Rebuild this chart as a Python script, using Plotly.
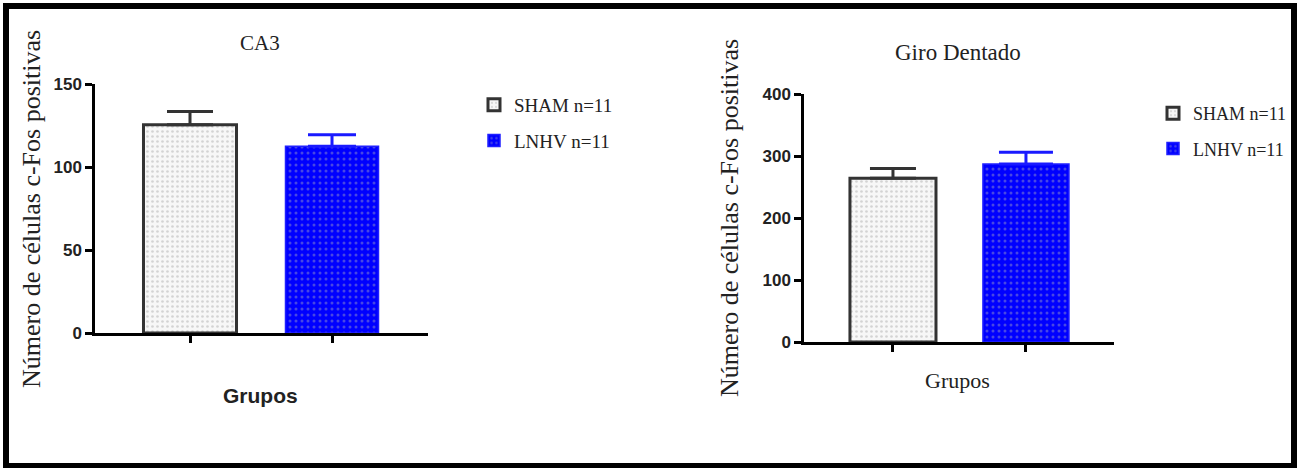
import plotly.graph_objects as go

# ---------------- data ----------------
groups = ["SHAM n=11", "LNHV n=11"]
categories = ["SHAM", "LNHV"]
ca3_means = [125.5, 112.5]
ca3_sem = [8.0, 7.0]
gd_means = [264.0, 287.0]
gd_sem = [16.0, 19.0]
ca3_ticks = [0, 50, 100, 150]
gd_ticks = [0, 100, 200, 300, 400]
panel_titles = ["CA3", "Giro Dentado"]
y_title = "Número de células c-Fos positivas"
x_title = "Grupos"

# ---------------- styles ----------------
W, H = 1303, 468
def px(x):
    return x / W
def py(y):
    return 1 - y / H

styles = [
    dict(bg="#f7f7f7", fg="#b0b0b0", line="#333333", lw=3, err="#333333", size=5, sol=0.22),
    dict(bg="#0000ff", fg="#8f8fc8", line="#2020ff", lw=1.5, err="#1a1aff", size=6, sol=0.2),
]
serif = "Liberation Serif"
sans = "Liberation Sans"

fig = go.Figure()
panels = [
    dict(means=ca3_means, sem=ca3_sem, xa="x", ya="y", leg="legend", width=0.655, capw=[23, 24]),
    dict(means=gd_means, sem=gd_sem, xa="x2", ya="y2", leg="legend2", width=0.647, capw=[23, 27]),
]
for i, p in enumerate(panels):
    for j in range(2):
        s = styles[j]
        fig.add_trace(go.Bar(
            x=[categories[j]], y=[p["means"][j]], name=groups[j],
            xaxis=p["xa"], yaxis=p["ya"], legend=p["leg"],
            legendgroup=f"g{i}{j}", width=p["width"],
            marker=dict(color=s["bg"], line=dict(color=s["line"], width=s["lw"]),
                        pattern=dict(shape=".", fgcolor=s["fg"], bgcolor=s["bg"],
                                     size=s["size"], solidity=s["sol"], fillmode="overlay")),
            error_y=dict(type="data", array=[p["sem"][j]], arrayminus=[0], symmetric=False,
                         color=s["err"], thickness=3, width=p["capw"][j]),
        ))

axis_common = dict(showline=True, linecolor="black", linewidth=2.5, showgrid=False,
                   zeroline=False, ticks="outside", tickcolor="black", tickwidth=2.5,
                   automargin=False)
tickfont = dict(family=sans, size=17, color="#222", weight="bold")

fig.update_layout(
    template="none",
    width=W, height=H, margin=dict(l=0, r=0, t=0, b=0, pad=0, autoexpand=False),
    paper_bgcolor="white", plot_bgcolor="white", barmode="overlay",
    xaxis=dict(domain=[px(95), px(428)], anchor="y", range=[-0.669, 1.676],
               showticklabels=False, ticklen=7, **axis_common),
    yaxis=dict(domain=[py(333), py(84)], anchor="x", range=[0, 150], tickvals=ca3_ticks,
               ticklen=7, tickfont=tickfont, **axis_common),
    xaxis2=dict(domain=[px(804), px(1114)], anchor="y2", range=[-0.669, 1.662],
                showticklabels=False, ticklen=7, **axis_common),
    yaxis2=dict(domain=[py(342), py(94)], anchor="x2", range=[0, 400], tickvals=gd_ticks,
                ticklen=7, tickfont=tickfont, **axis_common),
    legend=dict(x=px(474), y=py(86), xanchor="left", yanchor="top", tracegroupgap=8,
                font=dict(family=serif, size=19, color="#222"), bgcolor="rgba(0,0,0,0)"),
    legend2=dict(x=px(1153), y=py(95), xanchor="left", yanchor="top", tracegroupgap=9,
                 font=dict(family=serif, size=18, color="#222"), bgcolor="rgba(0,0,0,0)"),
    showlegend=True,
)

ann = [
    dict(text=panel_titles[0], x=px(260), y=py(43), font=dict(family=serif, size=21, color="#222")),
    dict(text=panel_titles[1], x=px(958), y=py(52), font=dict(family=serif, size=23, color="#222")),
    dict(text=y_title, x=px(32), y=py(209), textangle=-90, font=dict(family=serif, size=26, color="#222")),
    dict(text=y_title, x=px(729), y=py(218), textangle=-90, font=dict(family=serif, size=26, color="#222")),
    dict(text="<b>" + x_title + "</b>", x=px(260), y=py(395), font=dict(family=sans, size=21, color="#222")),
    dict(text=x_title, x=px(958), y=py(380), font=dict(family=serif, size=22, color="#222")),
]
for a in ann:
    fig.add_annotation(xref="paper", yref="paper", xanchor="center", yanchor="middle",
                       showarrow=False, **a)

fig.add_shape(type="rect", xref="paper", yref="paper", x0=px(6), x1=px(1294),
              y0=py(466), y1=py(6), line=dict(color="black", width=6), layer="above")

fig.write_html("out.html")
